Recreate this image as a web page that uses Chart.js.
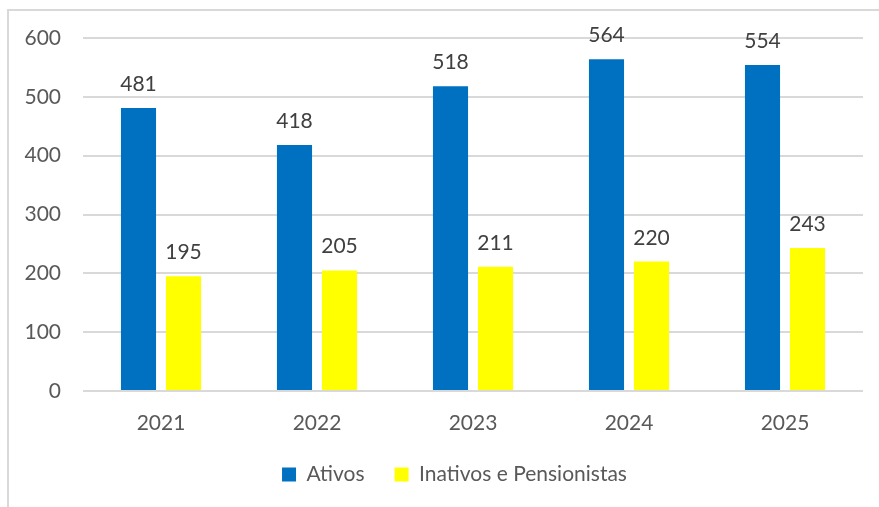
<!DOCTYPE html>
<html>
<head>
<meta charset="utf-8">
<script src="https://cdn.jsdelivr.net/npm/chart.js@4"></script>
<style>
  html, body { margin: 0; padding: 0; background: #fff; overflow: hidden; }
  #frame {
    position: absolute; left: 7px; top: 9px; width: 900px; height: 520px;
    border: 2px solid #d9d9d9; box-sizing: border-box;
  }
  #wrap { position: absolute; left: 0; top: 0; width: 879px; height: 507px; }
</style>
</head>
<body>
<div id="frame"></div>
<div id="wrap"><canvas id="myChart" width="879" height="507"></canvas></div>
<script>
// dados do gráfico
const anos = ['2021', '2022', '2023', '2024', '2025'];
const ativos = [481, 418, 518, 564, 554];
const inativos = [195, 205, 211, 220, 243];
const yTicks = [0, 100, 200, 300, 400, 500, 600];

const FONT = 'Lato, "Open Sans", sans-serif';
const FSIZE = 21;

// rótulos em cima das barras
const barLabels = {
  id: 'barLabels',
  afterLayout(chart) {
    // legenda um pouco à direita, como no original
    chart.legend.left += 23;
    chart.legend.right += 23;
  },
  afterDatasetsDraw(chart) {
    const ctx = chart.ctx;
    ctx.save();
    ctx.font = FSIZE + 'px ' + FONT;
    ctx.fillStyle = '#404040';
    ctx.textAlign = 'center';
    ctx.textBaseline = 'alphabetic';
    chart.data.datasets.forEach((ds, i) => {
      const meta = chart.getDatasetMeta(i);
      meta.data.forEach((bar, j) => {
        ctx.fillText(ds.data[j], bar.x, bar.y - 17);
      });
    });
    ctx.restore();
  }
};

const ctx = document.getElementById('myChart').getContext('2d');
const myChart = new Chart(ctx, {
  type: 'bar',
  data: {
    labels: anos,
    datasets: [
      {
        label: 'Ativos',
        data: ativos,
        backgroundColor: '#0070C0',
        borderWidth: 0,
        barPercentage: 0.78,
        categoryPercentage: 0.577
      },
      {
        label: 'Inativos e Pensionistas',
        data: inativos,
        backgroundColor: '#FFFF00',
        borderWidth: 0,
        barPercentage: 0.78,
        categoryPercentage: 0.577
      }
    ]
  },
  options: {
    responsive: false,
    animation: false,
    layout: { padding: { left: 0, right: 16, top: 38, bottom: 12 } },
    plugins: {
      tooltip: { enabled: false },
      legend: {
        position: 'bottom',
        labels: {
          color: '#595959',
          font: { family: FONT, size: FSIZE },
          boxWidth: 14,
          boxHeight: 14,
          padding: 30
        }
      }
    },
    scales: {
      x: {
        grid: { display: false },
        border: { display: false },
        ticks: { color: '#595959', font: { family: FONT, size: FSIZE }, padding: 12 },
        afterFit(scale) { scale.height = 43; }
      },
      y: {
        min: 0,
        max: 600,
        afterBuildTicks(scale) { scale.ticks = yTicks.map(v => ({ value: v })); },
        grid: { color: '#d9d9d9', lineWidth: 2, drawTicks: false },
        border: { display: false },
        ticks: { color: '#595959', font: { family: FONT, size: FSIZE }, padding: 22 },
        afterFit(scale) { scale.width = 83; }
      }
    }
  },
  plugins: [barLabels]
});
</script>
</body>
</html>
